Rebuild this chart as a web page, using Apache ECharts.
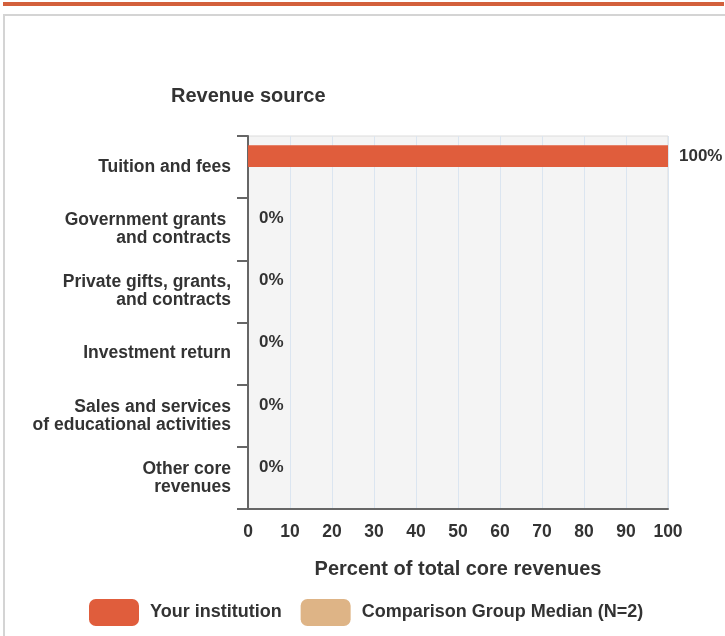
<!DOCTYPE html>
<html>
<head>
<meta charset="utf-8">
<script src="https://cdn.jsdelivr.net/npm/echarts@6/dist/echarts.min.js"></script>
<style>
  html, body { margin: 0; padding: 0; background: #fff; }
  #wrap { position: relative; width: 725px; height: 636px; overflow: hidden; }
  #topbar { position: absolute; left: 3px; top: 2px; width: 721px; height: 4px; background: #d3603c; }
  #box { position: absolute; left: 3px; top: 14px; width: 740px; height: 640px; border-left: 2px solid #d4d4d4; border-top: 2px solid #d4d4d4; box-sizing: border-box; }
  #chart { position: absolute; left: 0; top: 0; width: 725px; height: 636px; }
</style>
</head>
<body>
<div id="wrap">
  <div id="topbar"></div>
  <div id="box"></div>
  <div id="chart"></div>
</div>
<script>
const categories = [
  "Tuition and fees",
  "Government grants \nand contracts",
  "Private gifts, grants,\nand contracts",
  "Investment return",
  "Sales and services\nof educational activities",
  "Other core\nrevenues"
];
const institutionValues = [100, 0, 0, 0, 0, 0];
const comparisonValues = [null, null, null, null, null, null];
const xTicks = [0, 10, 20, 30, 40, 50, 60, 70, 80, 90, 100];
const seriesNames = ["Your institution", "Comparison Group Median (N=2)"];

const chart = echarts.init(document.getElementById('chart'), null, { renderer: 'canvas' });
const font = 'Arial, "Liberation Sans", Helvetica, sans-serif';
chart.setOption({
  animation: false,
  textStyle: { fontFamily: font },
  graphic: [{
    type: 'text', left: 171, top: 86,
    style: { text: 'Revenue source', font: 'bold 20px ' + font, fill: '#333' }
  }],
  legend: {
    data: seriesNames,
    top: 594, left: 84,
    icon: 'roundRect', itemWidth: 50, itemHeight: 27, itemGap: 19,
    textStyle: { fontSize: 18, fontWeight: 'bold', color: '#333', padding: [0, 0, 0, 6] }
  },
  grid: {
    left: 248, right: 57, top: 136, bottom: 127,
    show: true, backgroundColor: '#f4f4f4', borderColor: '#dcdcdc', borderWidth: 1
  },
  xAxis: {
    type: 'value', min: xTicks[0], max: xTicks[xTicks.length - 1], interval: 10,
    axisLine: { show: true, lineStyle: { color: '#666', width: 2 } },
    axisTick: { show: false },
    axisLabel: { margin: 14, fontSize: 17.5, fontWeight: 'bold', color: '#333' },
    splitLine: { show: true, lineStyle: { color: '#dbe5f0', width: 1 } },
    name: 'Percent of total core revenues', nameLocation: 'middle', nameGap: 50,
    nameTextStyle: { fontSize: 20, fontWeight: 'bold', color: '#333' }
  },
  yAxis: {
    type: 'category', data: categories, inverse: true,
    axisLine: { show: true, lineStyle: { color: '#666', width: 2 } },
    axisTick: { show: true, length: 11, lineStyle: { color: '#666', width: 2 } },
    axisLabel: { margin: 17, fontSize: 17.5, fontWeight: 'bold', color: '#333', lineHeight: 18 },
    splitLine: { show: false }
  },
  series: [
    {
      name: seriesNames[0], type: 'bar', data: institutionValues,
      barCategoryGap: '30%', barGap: 0,
      itemStyle: { color: '#e05d3c' },
      label: { show: true, position: 'right', distance: 11, formatter: '{c}%',
        fontSize: 17, fontWeight: 'bold', color: '#333' }
    },
    {
      name: seriesNames[1], type: 'bar', data: comparisonValues,
      barCategoryGap: '30%', barGap: 0,
      itemStyle: { color: '#deb486' },
      label: { show: true, position: 'right', distance: 11, formatter: '{c}%',
        fontSize: 17, fontWeight: 'bold', color: '#333' }
    }
  ]
});
</script>
</body>
</html>
